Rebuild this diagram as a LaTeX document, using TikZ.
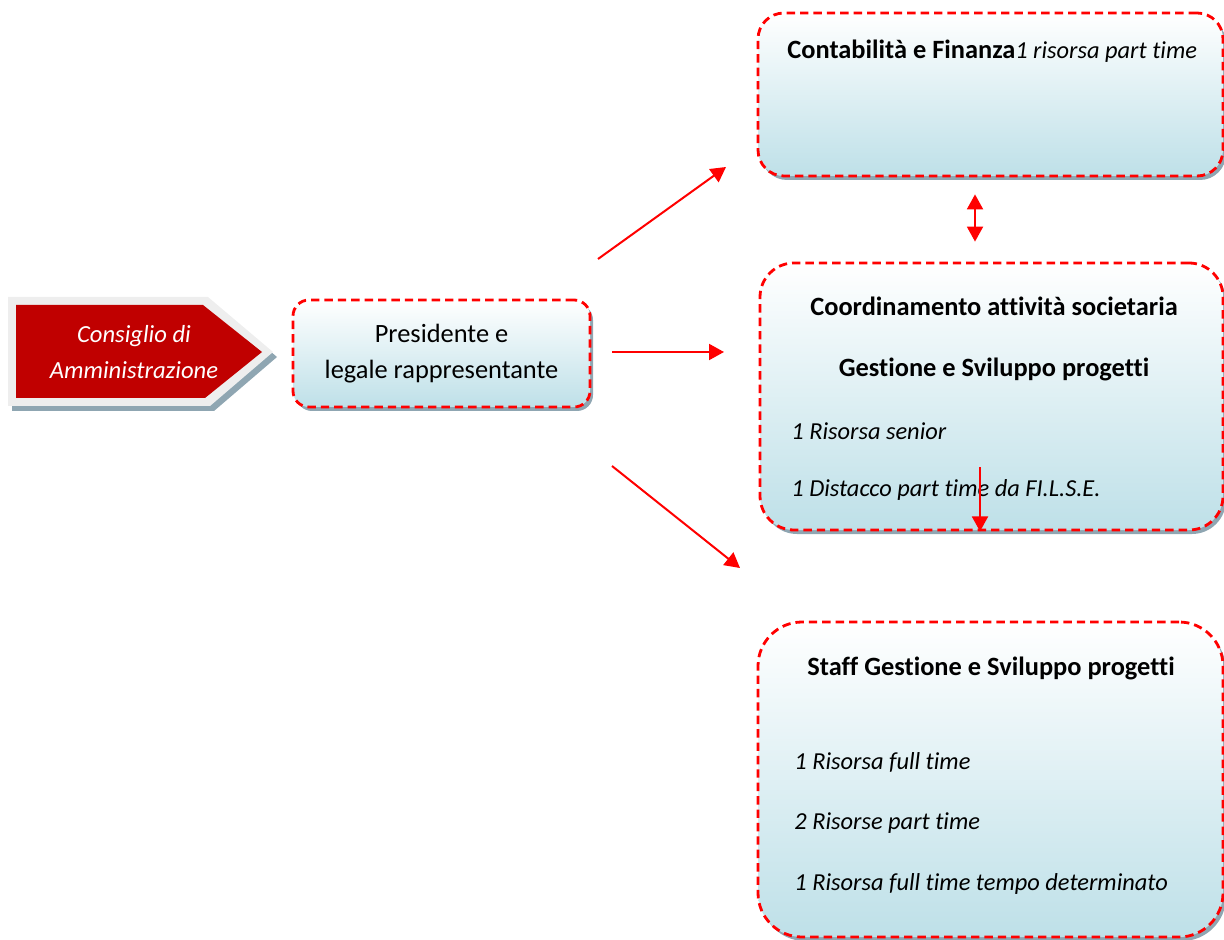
\documentclass[tikz,border=0pt]{standalone}
\usepackage{fontspec}
\setmainfont{Carlito}[Ligatures=NoCommon]
\usetikzlibrary{arrows.meta, positioning, shadows}
\definecolor{boxblue}{RGB}{190,224,232}
\definecolor{shadowgray}{RGB}{143,166,178}
\definecolor{cdared}{RGB}{192,0,0}
\definecolor{framegray}{RGB}{238,238,238}
\newcommand{\orgfont}{\fontsize{13.2}{18}\selectfont}
\newcommand{\itemfont}{\fontsize{12.2}{18}\selectfont\itshape}
\tikzset{>={Triangle[length=7.5pt, width=8pt]}}
\tikzset{
    orgbox/.style = {draw=red, line width=1.4pt, dash pattern=on 4.2pt off 2.5pt,
        top color=white, bottom color=boxblue, rounded corners=#1, font=\orgfont,
        drop shadow={shadow xshift=1.5pt, shadow yshift=-2pt, fill=shadowgray, opacity=1}},
    arr/.style = {->, red, line width=1pt},
    title/.style = {font=\orgfont\bfseries, inner sep=0pt},
    item/.style = {font=\itemfont, anchor=west, inner sep=0pt}
}

\begin{document}
\begin{tikzpicture}[x=0.5pt, y=-0.5pt]
    \useasboundingbox (0,0) rectangle (1224,940);

    % Consiglio di Amministrazione
    \fill[shadowgray] (12,302) -- (212,302) -- (277,357) -- (214,411) -- (12,411) -- cycle;
    \fill[framegray] (8,297) -- (208,297) -- (273,352) -- (210,406) -- (8,406) -- cycle;
    \fill[cdared] (16,305) -- (203,305) -- (262,352) -- (205,398) -- (16,398) -- cycle;
    \node[text=white, align=center, font=\fontsize{12.3}{18}\selectfont\itshape] (cons) at (134,352)
        {Consiglio di\\Amministrazione};

    % boxes
    \node[orgbox=8pt, minimum width=148.5pt, minimum height=53.5pt, align=center] (pres) at (441.5,353.5)
        {Presidente e\\legale rappresentante};
    \node[orgbox=13pt, minimum width=232.5pt, minimum height=81.5pt] (conta) at (990.5,94.5) {};
    \node[orgbox=17pt, minimum width=231.5pt, minimum height=133.5pt] (coord) at (991.5,396.5) {};
    \node[orgbox=22pt, minimum width=232.5pt, minimum height=157.5pt] (staff) at (990.5,779.5) {};

    % texts
    \node[item, font=\orgfont] (contatxt) at (787,51) {\textbf{Contabilità e Finanza}{\itemfont 1 risorsa part time}};
    \node[title] (coordtit) at (994,306) {Coordinamento attività societaria};
    \node[title] (gesttit) at (994,369) {Gestione e Sviluppo progetti};
    \node[item] (senior) at (791,431) {1 Risorsa senior};
    \node[item] (distacco) at (791,490) {1 Distacco part time da FI.L.S.E.};
    \node[title] (stafftit) at (991,668) {Staff Gestione e Sviluppo progetti};
    \node[item] (full) at (794,762) {1 Risorsa full time};
    \node[item] (part) at (794,823) {2 Risorse part time};
    \node[item] (det) at (794,884) {1 Risorsa full time tempo determinato};

    % arrows
    \coordinate (upA) at (598,259);
    \coordinate (upB) at (726,167);
    \coordinate (midA) at (612,352);
    \coordinate (midB) at (724,352);
    \coordinate (lowA) at (612,466);
    \coordinate (lowB) at (740,568);
    \coordinate (dtop) at (980,467);
    \draw[arr] (upA) -- (upB);
    \draw[arr] (midA) -- (midB);
    \draw[arr] (lowA) -- (lowB);
    \draw[arr, <->, shorten <=8.5pt, shorten >=10pt] ([xshift=-7.75pt]conta.south) -- ([xshift=-8.25pt]coord.north);
    \draw[arr] (dtop) -- (dtop |- coord.south);
\end{tikzpicture}
\end{document}
